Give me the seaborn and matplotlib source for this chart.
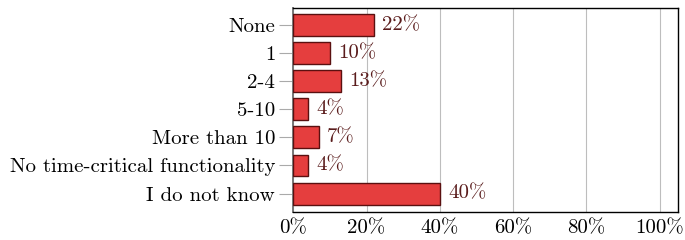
import matplotlib
matplotlib.use("Agg")
import matplotlib.pyplot as plt
import seaborn as sns
import pandas as pd

categories = ["None", "1", "2-4", "5-10", "More than 10",
              "No time-critical functionality", "I do not know"]
shares = [22, 10, 13, 4, 7, 4, 40]
ticks = [0, 20, 40, 60, 80, 100]

sns.set_style("white")
plt.rcParams["font.family"] = ["cmr10", "DejaVu Serif"]
plt.rcParams["axes.formatter.use_mathtext"] = True
plt.rcParams["text.color"] = "black"
plt.rcParams["xtick.labelcolor"] = "black"
plt.rcParams["ytick.labelcolor"] = "black"

df = pd.DataFrame({"answer": categories, "share": shares})

fig, ax = plt.subplots(figsize=(6.85, 2.4), dpi=100)
sns.barplot(data=df, x="share", y="answer", color="#e53e3e", saturation=1,
            edgecolor="#5a1010", linewidth=1.0, width=0.78, ax=ax, zorder=3)

for i, v in enumerate(shares):
    ax.text(v + 2.2, i, f"{v}%", va="center", ha="left", fontsize=15,
            color="#5a1c1c")

ax.set_xlim(0, 105)
ax.set_ylim(6.65, -0.6)
ax.set_xticks(ticks)
ax.set_xticklabels([f"{t}%" for t in ticks])
ax.xaxis.grid(True, color="#bdbdbd", linewidth=0.8, zorder=0)
ax.set_xlabel("")
ax.set_ylabel("")
ax.tick_params(axis="x", length=0, labelsize=15, pad=5, labelcolor="black")
ax.tick_params(axis="y", length=10, color="#aaaaaa", width=0.8, labelsize=15,
               pad=3, labelcolor="black")
ax.yaxis.set_ticks_position("left")
for side in ["top", "right", "bottom"]:
    ax.spines[side].set_color("black")
    ax.spines[side].set_linewidth(1.0)
ax.spines["left"].set_color("#777777")
ax.spines["left"].set_linewidth(1.4)

fig.subplots_adjust(left=0.428, right=0.99, top=0.967, bottom=0.117)
fig.savefig("out.png", dpi=100)
